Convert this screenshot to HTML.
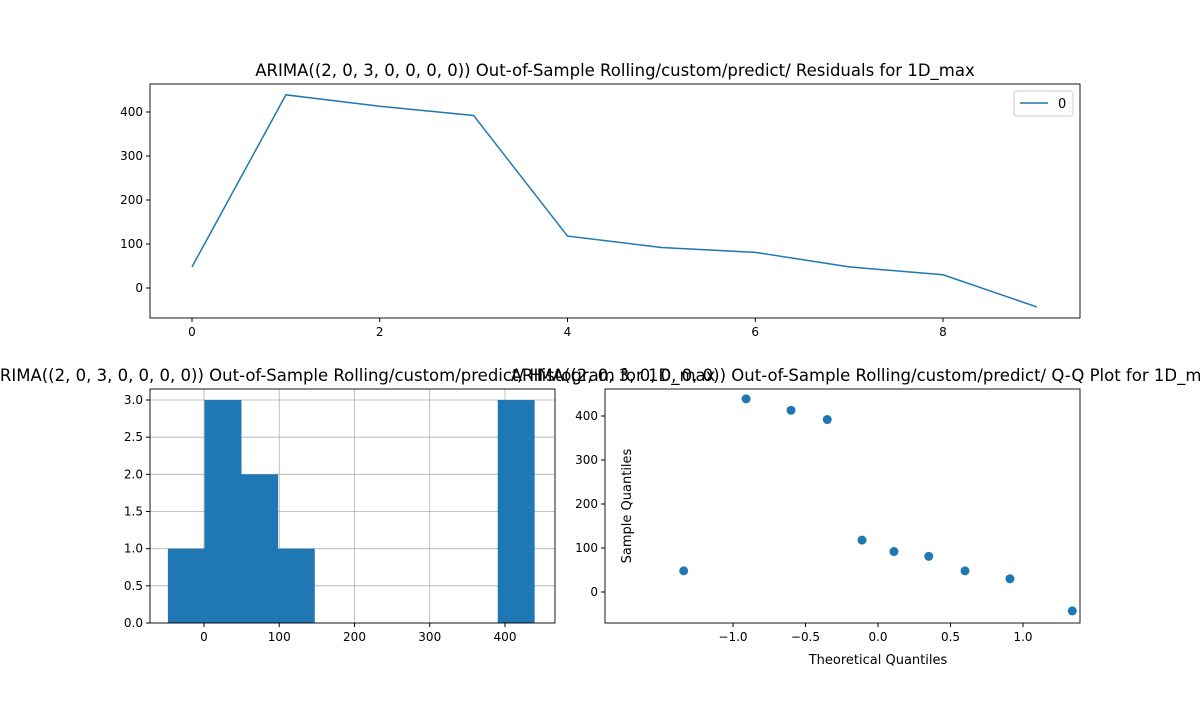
<!DOCTYPE html>
<html><head><meta charset="utf-8"><style>
body{margin:0;background:#fff;}
svg{font-family:"DejaVu Sans","Liberation Sans",sans-serif;}
.t{font-size:12px;fill:#000}
.ti{font-size:16.5px;fill:#000}
</style></head><body>
<svg id="c" width="1200" height="700" xmlns="http://www.w3.org/2000/svg"></svg>
<script>
const residX=[0,1,2,3,4,5,6,7,8,9];
const residY=[48,439,413,392,118,92,81,48,30,-43];
const histEdgesCounts=[1,3,2,1,0,0,0,0,0,3];
const histMin=-48, histMax=439;
const qqTheo=[-1.34,-0.91,-0.6,-0.35,-0.11,0.11,0.35,0.6,0.91,1.34];
const qqSample=[48,439,413,392,118,92,81,48,30,-43];
const topXTicks=[0,2,4,6,8], topYTicks=[0,100,200,300,400];
const hXTicks=[0,100,200,300,400], hYTicks=[0,0.5,1.0,1.5,2.0,2.5,3.0];
const qXTicks=[-1.0,-0.5,0.0,0.5,1.0], qYTicks=[0,100,200,300,400];
const S=document.getElementById('c'),NS='http://www.w3.org/2000/svg';
function el(t,a,txt){const e=document.createElementNS(NS,t);for(const k in a)e.setAttribute(k,a[k]);if(txt!==undefined)e.textContent=txt;S.appendChild(e);return e;}
function lin(d0,d1,r0,r1){return v=>r0+(v-d0)*(r1-r0)/(d1-d0);}
function axes(x0,y0,x1,y1,xs,ys,xt,yt,fmtx,fmty,grid,name){
 if(grid){xt.forEach(v=>{const g=el('line',{x1:xs(v),x2:xs(v),y1:y0,y2:y1,stroke:'#b0b0b0','stroke-width':0.8});});
 yt.forEach(v=>{const g=el('line',{x1:x0,x2:x1,y1:ys(v),y2:ys(v),stroke:'#b0b0b0','stroke-width':0.8});});}
 xt.forEach(v=>{el('line',{x1:xs(v),x2:xs(v),y1:y1,y2:y1+4,stroke:'#000'});const t=el('text',{x:xs(v),y:y1+18,'text-anchor':'middle',class:'t'},fmtx(v));});
 yt.forEach(v=>{el('line',{x1:x0-4,x2:x0,y1:ys(v),y2:ys(v),stroke:'#000'});const t=el('text',{x:x0-7,y:ys(v)+4,'text-anchor':'end',class:'t'},fmty(v));});
}
function frame(x0,y0,x1,y1,name){const r=el('rect',{x:x0,y:y0,width:x1-x0,height:y1-y0,fill:'none',stroke:'#000','stroke-width':0.9});}
// top
let xs=lin(0,8,192,943), ys=lin(0,400,288,112);
axes(150,84,1080,318,xs,ys,topXTicks,topYTicks,String,String,false,'top');
const pl=el('polyline',{points:residX.map((x,i)=>xs(x)+','+ys(residY[i])).join(' '),fill:'none',stroke:'#1f77b4','stroke-width':1.5});

frame(150,84,1080,318,'top');
let t=el('text',{x:615,y:76,'text-anchor':'middle',class:'ti'},'ARIMA((2, 0, 3, 0, 0, 0, 0)) Out-of-Sample Rolling/custom/predict/ Residuals for 1D_max');

let lg=el('rect',{x:1014,y:91,width:59,height:25,fill:'#fff',stroke:'#ccc',rx:3});
el('line',{x1:1020,x2:1048,y1:103,y2:103,stroke:'#1f77b4','stroke-width':1.5});
t=el('text',{x:1058,y:108,class:'t',style:'font-size:13px'},'0');
// hist
xs=lin(0,400,204,505); ys=lin(0,3,623,400);
axes(150,389,555,623,xs,ys,hXTicks,hYTicks,String,v=>v.toFixed(1),true,'hist');
const bw=(histMax-histMin)/histEdgesCounts.length;
histEdgesCounts.forEach((c,i)=>{if(!c)return;const a=xs(histMin+i*bw),b=xs(histMin+(i+1)*bw);const r=el('rect',{x:a,y:ys(c),width:b-a+0.3,height:ys(0)-ys(c),fill:'#1f77b4'});});
frame(150,389,555,623,'hist');
// qq
xs=lin(0,1,878,1023); ys=lin(0,400,592,416);
axes(605,389,1080,623,xs,ys,qXTicks,qYTicks,v=>v.toFixed(1).replace('-','\u2212'),String,false,'qq');
qqTheo.forEach((x,i)=>{const c=el('circle',{cx:xs(x),cy:ys(qqSample[i]),r:4.5,fill:'#1f77b4'});});
frame(605,389,1080,623,'qq');
t=el('text',{x:878,y:664,'text-anchor':'middle',class:'t',style:'font-size:13px'},'Theoretical Quantiles');
t=el('text',{x:631,y:506,'text-anchor':'middle',class:'t',style:'font-size:13px',transform:'rotate(-90 631 506)'},'Sample Quantiles');
t=el('text',{x:352,y:381,'text-anchor':'middle',class:'ti'},'ARIMA((2, 0, 3, 0, 0, 0, 0)) Out-of-Sample Rolling/custom/predict/ Histogram for 1D_max');
t=el('text',{x:866,y:381,'text-anchor':'middle',class:'ti'},'ARIMA((2, 0, 3, 0, 0, 0, 0)) Out-of-Sample Rolling/custom/predict/ Q-Q Plot for 1D_max');
</script>
</body></html>
